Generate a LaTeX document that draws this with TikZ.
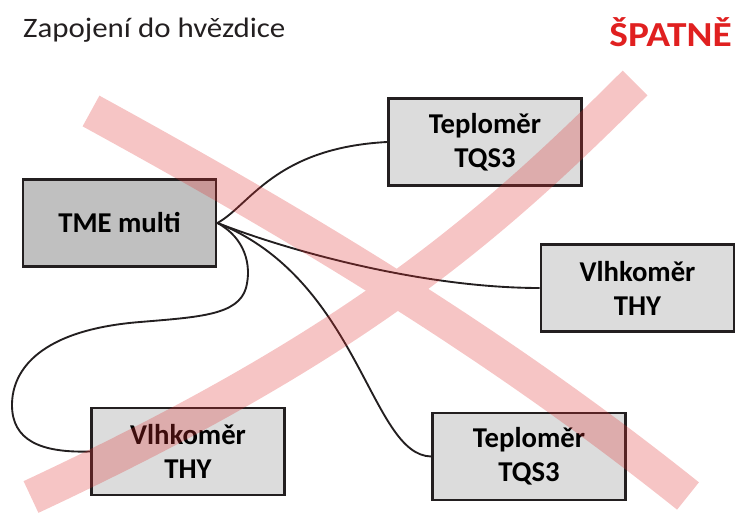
\documentclass[tikz,border=0pt]{standalone}
\usepackage{graphicx}
\usepackage{fontspec}
\setmainfont{Carlito}
\definecolor{boxline}{HTML}{231F20}
\definecolor{darkbox}{HTML}{C0C0C0}
\definecolor{lightbox}{HTML}{DCDCDC}
\definecolor{wrongred}{HTML}{E02020}
\definecolor{crossred}{HTML}{E03030}

\begin{document}
\begin{tikzpicture}[x=0.03cm,y=-0.03cm]
	\tikzstyle{every node}+=[inner sep=0pt]
	\tikzstyle{device}=[draw=boxline,line width=2.2pt,fill=lightbox,minimum width=5.8cm,minimum height=2.6cm,align=center,font=\fontsize{24.5}{29}\selectfont\bfseries]
	\tikzstyle{wire}=[draw=boxline,line width=1.6pt]
	\tikzstyle{crossbar}=[draw=crossred,line width=1.05cm]
	\useasboundingbox (0,0) rectangle (736,513);
	% headings
	\node (title) [anchor=base west,font=\fontsize{24}{28}\selectfont,text=boxline] at (23,38) {\scalebox{1.1}[1]{Zapojení do hvězdice}};
	\node (wrong) [anchor=base east,font=\fontsize{30}{36}\selectfont\bfseries,text=wrongred] at (732,47) {\scalebox{1.12}[1]{ŠPATNĚ}};
	% devices
	\node (tme) [device,fill=darkbox] at (119.5,223) {TME multi};
	\node (tqsA) [device] at (485,142) {Teploměr\\TQS3};
	\node (thyA) [device] at (637.5,288) {Vlhkoměr\\THY};
	\node (thyB) [device] at (188,451.5) {Vlhkoměr\\THY};
	\node (tqsB) [device] at (529,456.5) {Teploměr\\TQS3};
	% wires, all from one point
	\draw [wire] (tme.east) .. controls (250,205) and (275,148) .. (tqsA.west);
	\draw [wire] (tme.east) .. controls (300,255) and (430,288) .. (thyA.west);
	\draw [wire] (tme.east) .. controls (360,280) and (370,455) .. (tqsB.west);
	\draw [wire] (tme.east) .. controls (245,238) and (252,265) .. (246,288)
		.. controls (238,315) and (200,317) .. (140,322)
		.. controls (40,330) and (12,370) .. (12,405)
		.. controls (12,440) and (40,453) .. (thyB.west);
	% the cross
	\begin{scope}[transparency group,opacity=0.28]
		\draw [crossbar] (91,111) .. controls (301,226) and (498,344) .. (688,496);
		\draw [crossbar] (635,83) .. controls (485,233) and (352,347) .. (31,497);
	\end{scope}
\end{tikzpicture}
\end{document}
